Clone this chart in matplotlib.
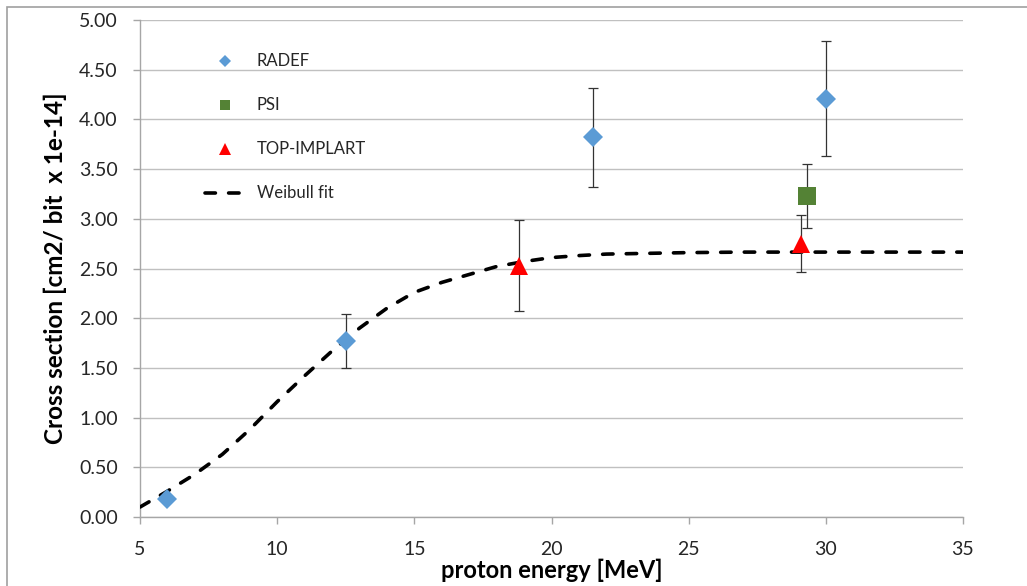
import matplotlib
matplotlib.use("Agg")
import matplotlib.pyplot as plt
from matplotlib.patches import Rectangle

# Measured cross sections (x 1e-14 cm2/bit) with their uncertainties
radef_energy = [6.0, 12.5, 21.5, 30.0]
radef_sigma = [0.18, 1.77, 3.82, 4.21]
radef_err = [0.0, 0.27, 0.50, 0.58]

psi_energy = [29.3]
psi_sigma = [3.23]
psi_err = [0.32]

implart_energy = [18.8, 29.1]
implart_sigma = [2.53, 2.75]
implart_err = [0.46, 0.29]

# Weibull fit curve samples
fit_energy = [5, 6, 7, 8, 9, 10, 11, 12, 13, 14, 15, 16, 17, 18, 19, 20,
              21, 22, 23, 24, 25, 27, 30, 35]
fit_sigma = [0.10, 0.26, 0.43, 0.63, 0.88, 1.16, 1.42, 1.67, 1.90, 2.10,
             2.26, 2.36, 2.44, 2.52, 2.57, 2.61, 2.63, 2.645, 2.65, 2.655,
             2.66, 2.665, 2.665, 2.665]

x_ticks = [5, 10, 15, 20, 25, 30, 35]
y_ticks = [0.0, 0.5, 1.0, 1.5, 2.0, 2.5, 3.0, 3.5, 4.0, 4.5, 5.0]

plt.rcParams['font.family'] = ['Lato', 'DejaVu Sans']
plt.rcParams['lines.scale_dashes'] = False

fig = plt.figure(figsize=(10.27, 5.86), dpi=100)
ax = fig.add_axes([140 / 1027, 1 - 517 / 586, 823 / 1027, 497 / 586])

# chart area border
fig.patches.append(Rectangle((7 / 1027, -0.05), 1.05, 1 - 7 / 586 + 0.05,
                             transform=fig.transFigure, fill=False,
                             edgecolor='#a0a0a0', linewidth=1.2))

grid_col = '#c0c0c0'
axis_col = '#a6a6a6'
err_kw = dict(fmt='none', ecolor='#333333', elinewidth=0.9, capsize=3.6,
              capthick=0.9, zorder=3.5)

# error bars
ax.errorbar(radef_energy, radef_sigma, yerr=radef_err, **err_kw)
ax.errorbar(psi_energy, psi_sigma, yerr=psi_err, **err_kw)
ax.errorbar(implart_energy, implart_sigma, yerr=implart_err, **err_kw)

# data markers
h_radef, = ax.plot(radef_energy, radef_sigma, 'D', color='#5b9bd5',
                   markersize=10.5, markeredgewidth=0, label='RADEF',
                   zorder=4)
h_psi, = ax.plot(psi_energy, psi_sigma, 's', color='#548235',
                 markersize=13, markeredgewidth=0, label='PSI', zorder=4)
h_impl, = ax.plot(implart_energy, implart_sigma, '^', color='#ff0000',
                  markersize=13.5, markeredgewidth=0, label='TOP-IMPLART',
                  zorder=4)
h_fit, = ax.plot(fit_energy, fit_sigma, color='black', linewidth=2.6,
                 dashes=(7.5, 9.5), dash_capstyle='round',
                 label='Weibull fit', zorder=3)

ax.set_xlim(5, 35)
ax.set_ylim(0, 5)
ax.set_xticks(x_ticks)
ax.set_xticklabels([str(v) for v in x_ticks])
ax.set_yticks(y_ticks)
ax.set_yticklabels([f'{v:.2f}' for v in y_ticks])

ax.yaxis.grid(True, color=grid_col, linewidth=1.0)
ax.xaxis.grid(False)
ax.set_axisbelow(True)
for side in ('top', 'right'):
    ax.spines[side].set_visible(False)
for side in ('left', 'bottom'):
    ax.spines[side].set_color(axis_col)
    ax.spines[side].set_linewidth(1.0)
ax.tick_params(axis='both', direction='out', length=5, width=1.0,
               color=axis_col, labelsize=14, labelcolor='#262626')
ax.tick_params(axis='x', pad=12)
ax.tick_params(axis='y', pad=11)

ax.set_xlabel('proton energy [MeV]', fontsize=17, fontweight='bold')
ax.xaxis.set_label_coords(0.5, -0.083)
ax.set_ylabel('Cross section [cm2/ bit  x 1e-14]', fontsize=17.5,
              fontweight='bold')
ax.yaxis.set_label_coords(-0.089, 0.5)

leg = ax.legend(handles=[h_radef, h_psi, h_impl, h_fit], loc='upper left',
                bbox_to_anchor=(0.061, 0.963), frameon=False,
                markerscale=0.6, labelspacing=1.68, handlelength=2.4,
                handletextpad=0.7, fontsize=12)
for t in leg.get_texts():
    t.set_color('#262626')

fig.savefig('out.png', dpi=100)
